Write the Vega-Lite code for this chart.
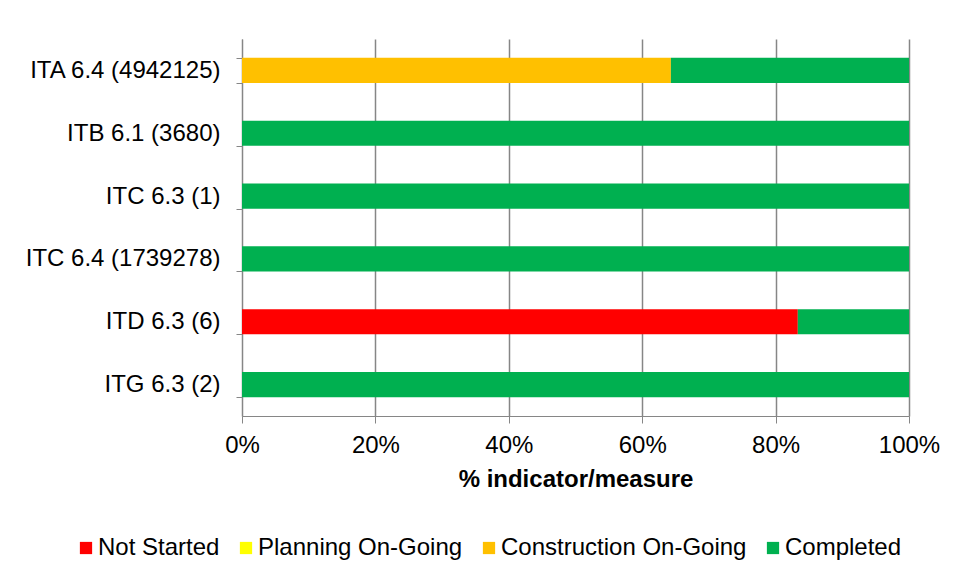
{
  "$schema": "https://vega.github.io/schema/vega-lite/v6.json",
  "autosize": "none",
  "width": 667,
  "height": 377,
  "padding": {"left": 242, "top": 39, "right": 47, "bottom": 165},
  "background": "white",
  "config": {
    "font": "Liberation Sans",
    "view": {"stroke": null},
    "axis": {"domainColor": "#868686", "tickColor": "#868686", "gridColor": "#868686", "labelColor": "black", "titleColor": "black"}
  },
  "data": {
    "values": [
      {"cat": "ITA 6.4 (4942125)", "status": "Construction On-Going", "order": 3, "value": 64.3},
      {"cat": "ITA 6.4 (4942125)", "status": "Completed", "order": 4, "value": 35.7},
      {"cat": "ITB 6.1 (3680)", "status": "Completed", "order": 4, "value": 100},
      {"cat": "ITC 6.3 (1)", "status": "Completed", "order": 4, "value": 100},
      {"cat": "ITC 6.4 (1739278)", "status": "Completed", "order": 4, "value": 100},
      {"cat": "ITD 6.3 (6)", "status": "Not Started", "order": 1, "value": 83.33},
      {"cat": "ITD 6.3 (6)", "status": "Completed", "order": 4, "value": 16.67},
      {"cat": "ITG 6.3 (2)", "status": "Completed", "order": 4, "value": 100}
    ]
  },
  "mark": {"type": "bar"},
  "encoding": {
    "y": {
      "field": "cat", "type": "nominal", "sort": null,
      "scale": {"paddingInner": 0.6, "paddingOuter": 0.3},
      "axis": {"title": null, "tickBand": "extent", "tickSize": 6, "labelPadding": 16, "labelFontSize": 24, "labelLimit": 400, "domainWidth": 1}
    },
    "x": {
      "field": "value", "type": "quantitative", "stack": "normalize",
      "scale": {"domain": [0, 1], "nice": false},
      "axis": {"title": "% indicator/measure", "format": ".0%", "values": [0, 0.2, 0.4, 0.6, 0.8, 1], "labelFlush": false, "tickSize": 7, "labelPadding": 10, "labelFontSize": 24, "titleFontSize": 24, "titleFontWeight": "bold", "titlePadding": 10, "grid": true, "gridWidth": 1.5}
    },
    "color": {
      "field": "status", "type": "nominal",
      "scale": {"domain": ["Not Started", "Planning On-Going", "Construction On-Going", "Completed"], "range": ["#FF0000", "#FFFF00", "#FFC000", "#00B050"]},
      "legend": {"title": null, "orient": "none", "direction": "horizontal", "legendX": -168, "legendY": 497, "symbolType": "square", "symbolSize": 150, "symbolStrokeWidth": 0, "labelFontSize": 24, "labelOffset": 0, "columnPadding": 14, "labelLimit": 500}
    },
    "order": {"field": "order", "type": "quantitative"}
  }
}
